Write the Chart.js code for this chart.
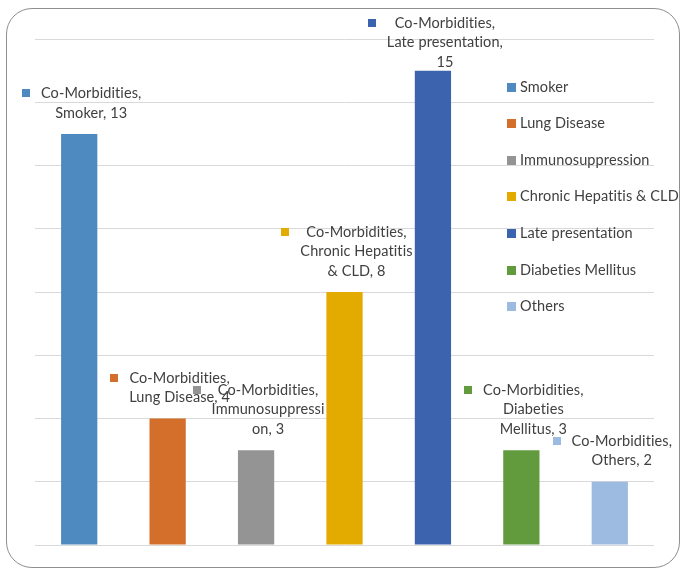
<!DOCTYPE html>
<html>
<head>
<meta charset="utf-8">
<script src="https://cdn.jsdelivr.net/npm/chart.js@4.4.0/dist/chart.umd.min.js"></script>
<style>
  html, body { margin: 0; padding: 0; background: #fff; }
  #wrap { position: relative; width: 680px; height: 569px; overflow: hidden; }
  #frame { position: absolute; left: 6px; top: 8px; width: 674px; height: 560px;
           border: 1px solid #8f8f8f; border-radius: 26px; box-sizing: border-box; }
  #c { position: absolute; left: 0; top: 0; }
</style>
</head>
<body>
<div id="wrap">
  <div id="frame"></div>
  <canvas id="c" width="680" height="569"></canvas>
</div>
<script>
// Series and category data
const seriesName = 'Co-Morbidities';
const categories = ['Smoker', 'Lung Disease', 'Immunosuppression', 'Chronic Hepatitis & CLD',
                    'Late presentation', 'Diabeties Mellitus', 'Others'];
const values = [13, 4, 3, 8, 15, 3, 2];
const colors = ['#4e8abf', '#d46f2b', '#949494', '#e3aa00', '#3c63ad', '#629b3e', '#9dbbe1'];
const yMin = 0, yMax = 16, yStep = 2;

const FONT = '14.5px Lato';
const TEXT_COLOR = '#404040';
const LINE_H = 19.5;
const LABEL_WRAP = 117.5;

// Small tracking keeps the glyphs separate (no "ti" ligatures)
function setTextStyle(ctx) {
  ctx.font = FONT;
  if ('letterSpacing' in ctx) ctx.letterSpacing = '0.1px';
}

// Greedy word wrap; words longer than the width are split by characters
function wrapText(ctx, text, maxW) {
  const words = text.split(' ');
  const lines = [];
  let cur = '';
  for (const w of words) {
    const test = cur ? cur + ' ' + w : w;
    if (ctx.measureText(test).width <= maxW) { cur = test; continue; }
    if (cur) lines.push(cur);
    let word = w;
    while (ctx.measureText(word).width > maxW) {
      let k = word.length;
      while (k > 1 && ctx.measureText(word.slice(0, k)).width > maxW) k--;
      lines.push(word.slice(0, k));
      word = word.slice(k);
    }
    cur = word;
  }
  if (cur) lines.push(cur);
  return lines;
}

// Data labels: "Series, Category, Value" with a colour key square
const barLabels = {
  id: 'barLabels',
  afterDatasetsDraw(chart) {
    const ctx = chart.ctx;
    const meta = chart.getDatasetMeta(0);
    const area = chart.chartArea;
    ctx.save();
    setTextStyle(ctx);
    ctx.textAlign = 'center';
    ctx.textBaseline = 'middle';
    meta.data.forEach((bar, i) => {
      const text = seriesName + ', ' + categories[i] + ', ' + values[i];
      const lines = wrapText(ctx, text, LABEL_WRAP);
      const cx = bar.x + 12;
      let first = bar.y - 21 - (lines.length - 1) * LINE_H;
      if (first < area.top - 16) first = area.top - 16;
      const widest = Math.max(...lines.map(l => ctx.measureText(l).width));
      ctx.fillStyle = colors[i];
      ctx.fillRect(Math.round(cx - widest / 2 - 19), Math.round(first - 4), 8, 8);
      ctx.fillStyle = TEXT_COLOR;
      lines.forEach((l, k) => ctx.fillText(l, cx, first + k * LINE_H));
    });
    ctx.restore();
  }
};

// Category legend drawn over the right part of the plot
const categoryLegend = {
  id: 'categoryLegend',
  afterDraw(chart) {
    const ctx = chart.ctx;
    const area = chart.chartArea;
    const x0 = area.right - 147;
    const y0 = area.top + 48;
    const gap = 36.6;
    ctx.save();
    setTextStyle(ctx);
    ctx.textAlign = 'left';
    ctx.textBaseline = 'middle';
    categories.forEach((c, i) => {
      const y = y0 + i * gap;
      ctx.fillStyle = colors[i];
      ctx.fillRect(x0, Math.round(y - 4.5), 9, 9);
      ctx.fillStyle = TEXT_COLOR;
      ctx.fillText(c, x0 + 13, y);
    });
    ctx.restore();
  }
};

new Chart(document.getElementById('c'), {
  type: 'bar',
  data: {
    labels: categories,
    datasets: [{
      label: seriesName,
      data: values,
      backgroundColor: colors,
      borderWidth: 0,
      categoryPercentage: 1.0,
      barPercentage: 0.41
    }]
  },
  options: {
    responsive: false,
    animation: false,
    devicePixelRatio: 1,
    layout: { padding: { left: 35, right: 26, top: 39, bottom: 24 } },
    plugins: {
      legend: { display: false },
      tooltip: { enabled: false }
    },
    scales: {
      x: {
        grid: { display: false, drawTicks: false },
        border: { display: false },
        ticks: { display: false }
      },
      y: {
        min: yMin,
        max: yMax,
        ticks: { display: false, stepSize: yStep },
        grid: { color: '#d9d9d9', lineWidth: 1, drawTicks: false },
        border: { display: false }
      }
    }
  },
  plugins: [barLabels, categoryLegend]
});
</script>
</body>
</html>
